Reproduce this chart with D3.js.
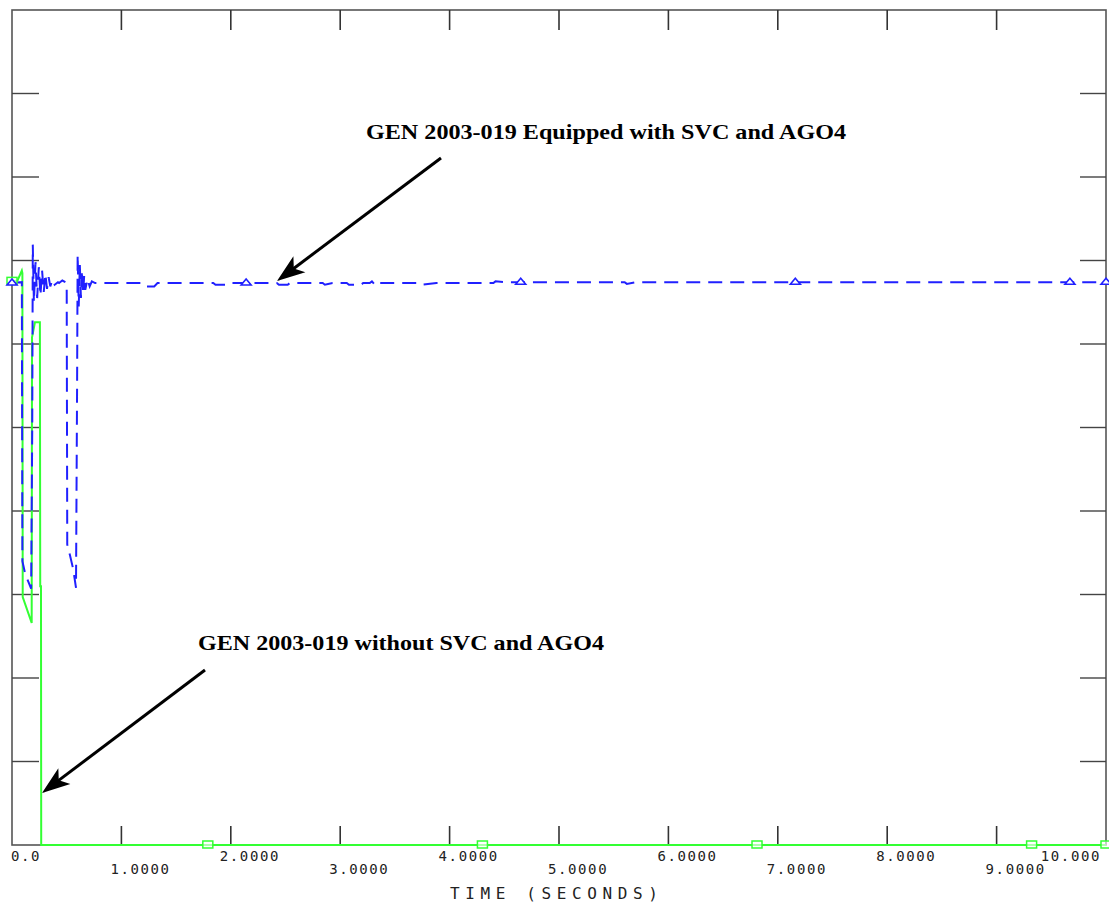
<html>
<head>
  <script src="https://d3js.org/d3.v7.min.js"></script>
  <style>
    body { margin: 0; background: #fff; }
    .tick-label { font-family: "DejaVu Sans Mono", monospace; font-size: 14px; letter-spacing: 1.6px; fill: #222; }
    .note { font-family: "Liberation Serif", "Times New Roman", serif; font-size: 21px; font-weight: bold; fill: #000; }
  </style>
</head>
<body>
<svg width="1109" height="903"></svg>
<script>
// time ticks along the bottom
var tickTimes = [0, 1, 2, 3, 4, 5, 6, 7, 8, 9, 10];
var tickLabels = ["0.0", "1.0000", "2.0000", "3.0000", "4.0000", "5.0000",
                  "6.0000", "7.0000", "8.0000", "9.0000", "10.000"];
var gridRows = [1, 2, 3, 4, 5, 6, 7, 8, 9];

// GEN 2003-019 equipped with SVC and AGO4 (blue, dashed)
var blueTime = [0, 0.09, 0.095, 0.12, 0.15, 0.175, 0.185, 0.19, 0.20, 0.215, 0.23, 0.245, 0.26,
  0.275, 0.29, 0.305, 0.32, 0.335, 0.35, 0.37, 0.39, 0.42, 0.43, 0.46, 0.49, 0.50, 0.505, 0.53,
  0.56, 0.585, 0.595, 0.60, 0.61, 0.62, 0.63, 0.64, 0.65, 0.66, 0.67, 0.69, 0.71, 0.73, 0.76,
  1.18, 1.21, 1.30, 1.33, 1.84, 1.86, 1.97, 1.99, 2.42, 2.44, 2.52, 2.54, 2.84, 2.86, 2.93,
  3.06, 3.08, 3.19, 3.21, 3.27, 3.29, 3.31, 3.33, 3.36, 3.73, 3.75, 3.88, 4.40, 4.42, 4.52,
  5.60, 5.62, 5.70, 10.0];
var blueValue = [6.73, 6.74, 3.40, 3.25, 3.15, 3.07, 5.00, 7.19, 6.50, 6.98, 6.55, 6.92, 6.58,
  6.88, 6.62, 6.84, 6.66, 6.80, 6.69, 6.77, 6.71, 6.74, 6.73, 6.76, 6.74, 6.70, 3.60, 3.47,
  3.30, 3.08, 5.50, 7.07, 6.45, 6.95, 6.55, 6.88, 6.60, 6.82, 6.65, 6.78, 6.69, 6.75, 6.73,
  6.73, 6.69, 6.69, 6.73, 6.73, 6.71, 6.71, 6.73, 6.73, 6.71, 6.71, 6.73, 6.73, 6.71, 6.73,
  6.73, 6.71, 6.71, 6.73, 6.73, 6.75, 6.72, 6.75, 6.73, 6.73, 6.71, 6.73, 6.73, 6.75, 6.74,
  6.74, 6.72, 6.74, 6.74];
var blueMarks = [0, 2.14, 4.65, 7.16, 9.67, 10.0];

// GEN 2003-019 without SVC and AGO4 (green, solid)
var greenTime = [0, 0.05, 0.09, 0.095, 0.098, 0.18, 0.183, 0.21, 0.255, 0.258, 0.265, 0.267, 10.0];
var greenValue = [6.75, 6.76, 6.88, 6.85, 2.97, 2.66, 6.08, 6.26, 6.26, 3.10, 3.10, 0, 0];
var greenMarks = [0, 1.79, 4.30, 6.81, 9.32, 10.0];

var svg = d3.select("svg");
var x = d3.scaleLinear().domain([0, 10]).range([12, 1106]);
var y = d3.scaleLinear().domain([0, 10]).range([845, 10]);

function pts(ts, vs) { return ts.map(function(t, i) { return [t, vs[i]]; }); }
function valueAt(ts, vs, t) {
  var i = d3.bisectLeft(ts, t);
  if (i <= 0) return vs[0];
  if (i >= ts.length) return vs[vs.length - 1];
  var f = (t - ts[i - 1]) / (ts[i] - ts[i - 1]);
  return vs[i - 1] + f * (vs[i] - vs[i - 1]);
}

var line = d3.line()
    .x(function(d) { return x(d[0]); })
    .y(function(d) { return y(d[1]); });

// frame
svg.append("rect")
    .attr("x", x(0)).attr("y", y(10))
    .attr("width", x(10) - x(0)).attr("height", y(0) - y(10))
    .attr("fill", "none").attr("stroke", "#555").attr("stroke-width", 1.6);

var inner = tickTimes.slice(1, 10);
// bottom + top ticks (pointing inward)
svg.selectAll(".xb").data(inner).enter().append("line")
    .attr("x1", x).attr("x2", x).attr("y1", y(0)).attr("y2", y(0) - 19)
    .attr("stroke", "#333").attr("stroke-width", 1.6);
svg.selectAll(".xt").data(inner).enter().append("line")
    .attr("x1", x).attr("x2", x).attr("y1", y(10)).attr("y2", y(10) + 20)
    .attr("stroke", "#333").attr("stroke-width", 1.6);
// left + right ticks
svg.selectAll(".yl").data(gridRows).enter().append("line")
    .attr("y1", y).attr("y2", y).attr("x1", x(0)).attr("x2", x(0) + 27)
    .attr("stroke", "#444").attr("stroke-width", 1.4);
svg.selectAll(".yr").data(gridRows).enter().append("line")
    .attr("y1", y).attr("y2", y).attr("x1", x(10)).attr("x2", x(10) - 26)
    .attr("stroke", "#444").attr("stroke-width", 1.4);

// staggered tick labels
svg.selectAll(".tick-label").data(tickTimes).enter().append("text")
    .attr("class", "tick-label")
    .attr("x", function(d, i) { return i == 0 ? x(d) - 1 : (i == 10 ? x(d) - 5 : x(d) - 11); })
    .attr("y", function(d, i) { return i % 2 == 0 ? 861 : 874; })
    .attr("text-anchor", function(d, i) { return i == 10 ? "end" : "start"; })
    .text(function(d, i) { return tickLabels[i]; });

svg.append("text")
    .attr("x", 450).attr("y", 899)
    .attr("textLength", 208).attr("lengthAdjust", "spacing")
    .attr("font-family", "DejaVu Sans Mono, monospace").attr("font-size", 16).attr("fill", "#222")
    .text("TIME (SECONDS)");

// series
svg.append("path")
    .datum(pts(greenTime, greenValue))
    .attr("d", line)
    .attr("fill", "none").attr("stroke", "#33ff33").attr("stroke-width", 2);

svg.append("path")
    .datum(pts(blueTime, blueValue))
    .attr("d", line)
    .attr("fill", "none").attr("stroke", "#2020ff").attr("stroke-width", 2)
    .attr("stroke-dasharray", "14,8");

// markers
svg.selectAll(".gm").data(greenMarks).enter().append("rect")
    .attr("x", function(d) { return x(d) - 5; })
    .attr("y", function(d) { return y(valueAt(greenTime, greenValue, d)) - 4; })
    .attr("width", 10).attr("height", 7)
    .attr("fill", "#fff").attr("fill-opacity", 0.6)
    .attr("stroke", "#33ff33").attr("stroke-width", 1.5);

svg.selectAll(".bm").data(blueMarks).enter().append("path")
    .attr("transform", function(d) {
      return "translate(" + x(d) + "," + y(valueAt(blueTime, blueValue, d)) + ")";
    })
    .attr("d", "M-5,2L0,-4L5,2Z")
    .attr("fill", "#fff").attr("stroke", "#2020ff").attr("stroke-width", 1.6);

// annotations with arrows
var notes = [
  { text: "GEN 2003-019 Equipped with SVC and AGO4", tx: 366, ty: 139, w: 480, from: [441, 158], to: [277, 281] },
  { text: "GEN 2003-019 without SVC and AGO4", tx: 198, ty: 650, w: 406, from: [205, 670], to: [42, 793] }
];

notes.forEach(function(n) {
  svg.append("text").attr("class", "note")
      .attr("x", n.tx).attr("y", n.ty)
      .attr("textLength", n.w).attr("lengthAdjust", "spacingAndGlyphs")
      .text(n.text);

  var dx = n.to[0] - n.from[0], dy = n.to[1] - n.from[1];
  var ang = Math.atan2(dy, dx) * 180 / Math.PI;
  var len = Math.sqrt(dx * dx + dy * dy);
  var g = svg.append("g")
      .attr("transform", "translate(" + n.to[0] + "," + n.to[1] + ") rotate(" + ang + ")");
  g.append("line")
      .attr("x1", -len).attr("y1", 0).attr("x2", -18).attr("y2", 0)
      .attr("stroke", "#000").attr("stroke-width", 3);
  g.append("path")
      .attr("d", "M0,0L-28,-10L-21,0L-28,10Z")
      .attr("fill", "#000");
});
</script>
</body>
</html>
